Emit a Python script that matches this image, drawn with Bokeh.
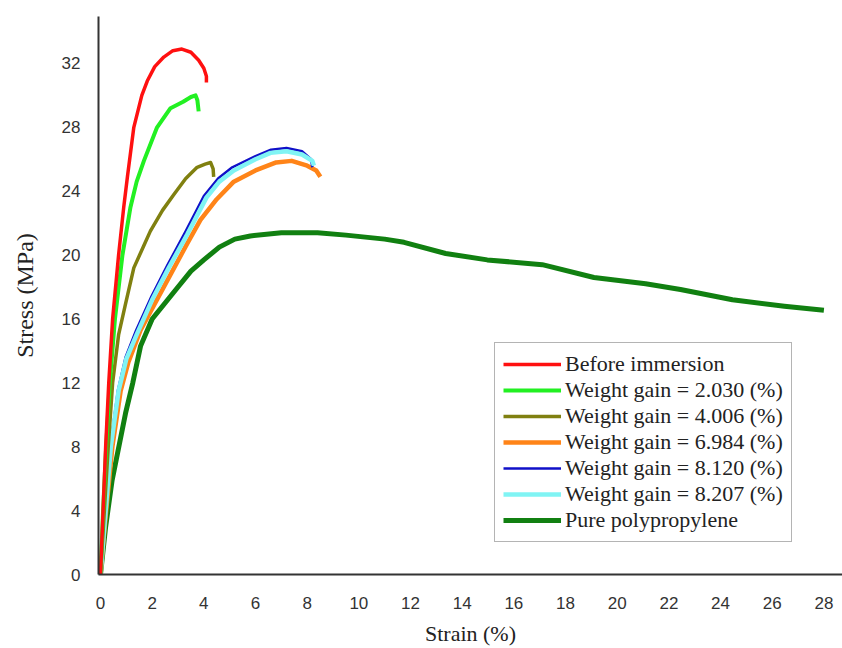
from bokeh.plotting import figure
from bokeh.models import Legend, LegendItem, Range1d, SingleIntervalTicker
from bokeh.embed import file_html
from bokeh.resources import INLINE

# Strain (%) / Stress (MPa) readings for each specimen
before_x = [0, 0.1, 0.2, 0.32, 0.47, 0.7, 0.9, 1.05, 1.29, 1.6, 1.81, 2.1, 2.45, 2.8, 3.15, 3.5, 3.8, 4.0, 4.1, 4.1]
before_y = [0, 4, 8, 12, 16, 20, 23.0, 25.0, 28.0, 30.0, 30.9, 31.8, 32.4, 32.8, 32.9, 32.7, 32.2, 31.7, 31.2, 30.8]

wg2030_x = [0, 0.1, 0.22, 0.36, 0.56, 0.85, 1.16, 1.4, 1.68, 2.19, 2.71, 3.2, 3.5, 3.68, 3.75, 3.8]
wg2030_y = [0, 4, 8, 12, 16, 20, 23.0, 24.6, 25.9, 28.0, 29.2, 29.6, 29.9, 30.0, 29.7, 29.0]

wg4006_x = [0, 0.15, 0.3, 0.47, 0.7, 0.95, 1.29, 1.68, 1.93, 2.4, 2.84, 3.3, 3.74, 4.05, 4.26, 4.36, 4.38]
wg4006_y = [0, 4, 8, 12, 15, 16.8, 19.2, 20.6, 21.5, 22.8, 23.8, 24.8, 25.5, 25.7, 25.8, 25.4, 24.9]

wg6984_x = [0, 0.22, 0.46, 0.78, 1.08, 1.55, 2.15, 2.75, 3.35, 3.87, 4.5, 5.16, 6.0, 6.8, 7.4, 8.0, 8.35, 8.51]
wg6984_y = [0, 4, 8, 11.5, 13.3, 15.3, 17.1, 18.9, 20.7, 22.2, 23.5, 24.6, 25.3, 25.8, 25.9, 25.6, 25.3, 24.9]

wg8120_x = [0, 0.19, 0.38, 0.67, 0.97, 1.38, 1.97, 2.6, 3.3, 4.0, 4.55, 5.1, 6.0, 6.6, 7.2, 7.8, 8.15, 8.2]
wg8120_y = [0, 4, 8, 11.5, 13.6, 15.3, 17.4, 19.4, 21.5, 23.7, 24.8, 25.5, 26.2, 26.6, 26.7, 26.5, 26.0, 25.5]

wg8207_x = [0, 0.2, 0.4, 0.7, 1.0, 1.42, 2.0, 2.64, 3.36, 4.1, 4.6, 5.16, 6.0, 6.58, 7.2, 7.8, 8.2, 8.26]
wg8207_y = [0, 4, 8, 11.5, 13.5, 15.1, 17.2, 19.2, 21.3, 23.6, 24.6, 25.3, 26.0, 26.4, 26.5, 26.3, 25.9, 25.6]

pp_x = [0, 0.2, 0.45, 0.71, 0.97, 1.25, 1.55, 2.0, 2.5, 3.0, 3.5, 4.0, 4.6, 5.2, 5.8, 7.0, 8.4, 9.5,
        11.0, 11.75, 13.36, 14.97, 17.1, 19.1, 21.1, 22.45, 24.46, 26.47, 28.0]
pp_y = [0, 3, 5.9, 8.0, 10.1, 12.0, 14.3, 16.0, 17.0, 18.0, 19.0, 19.7, 20.5, 21.0, 21.2, 21.4, 21.4, 21.25,
        21.0, 20.8, 20.1, 19.7, 19.4, 18.6, 18.2, 17.85, 17.2, 16.8, 16.55]

labels = ["Before immersion", "Weight gain = 2.030 (%)", "Weight gain = 4.006 (%)",
          "Weight gain = 6.984 (%)", "Weight gain = 8.120 (%)", "Weight gain = 8.207 (%)",
          "Pure polypropylene"]
colors = ["#ff1010", "#22f022", "#808010", "#ff8418", "#1010c8", "#80f4f4", "#118011"]

x_ticks_interval = 2
y_ticks_interval = 4

p = figure(width=842, height=648, output_backend="svg", toolbar_location=None,
           x_range=Range1d(-0.077, 28.72), y_range=Range1d(0, 34.94),
           min_border_left=98, min_border_right=0, min_border_top=16, min_border_bottom=73)
p.outline_line_color = None
p.background_fill_color = "white"
p.border_fill_color = "white"
p.xgrid.visible = False
p.ygrid.visible = False

r_pp = p.line(pp_x, pp_y, line_color=colors[6], line_width=5, line_join="round")
r_or = p.line(wg6984_x, wg6984_y, line_color=colors[3], line_width=4.5, line_join="round")
r_bl = p.line(wg8120_x, wg8120_y, line_color=colors[4], line_width=2.5, line_join="round")
r_cy = p.line(wg8207_x, wg8207_y, line_color=colors[5], line_width=4.5, line_join="round")
r_ol = p.line(wg4006_x, wg4006_y, line_color=colors[2], line_width=3.5, line_join="round")
r_gr = p.line(wg2030_x, wg2030_y, line_color=colors[1], line_width=4, line_join="round")
r_rd = p.line(before_x, before_y, line_color=colors[0], line_width=3.5, line_join="round")

renderers = [r_rd, r_gr, r_ol, r_or, r_bl, r_cy, r_pp]
items = [LegendItem(label=l, renderers=[r]) for l, r in zip(labels, renderers)]
legend = Legend(items=items, location=(396, 32))
legend.label_text_font = "Liberation Serif"
legend.label_text_font_size = "22px"
legend.label_text_color = "#222222"
legend.glyph_width = 58
legend.glyph_height = 24
legend.label_height = 24
legend.spacing = 0
legend.padding = 8
legend.margin = 0
legend.label_standoff = 4
legend.border_line_color = "#6a6a6a"
legend.border_line_width = 1.5
legend.background_fill_color = "white"
legend.background_fill_alpha = 1
p.add_layout(legend, "center")

for ax in (p.xaxis[0], p.yaxis[0]):
    ax.axis_line_color = "#333333"
    ax.axis_line_width = 2
    ax.major_tick_line_color = None
    ax.minor_tick_line_color = None
    ax.major_tick_out = 0
    ax.major_tick_in = 0
    ax.major_label_text_font = "Liberation Sans"
    ax.major_label_text_font_size = "17px"
    ax.major_label_text_color = "#333333"
    ax.axis_label_text_font = "Liberation Serif"
    ax.axis_label_text_font_style = "normal"
    ax.axis_label_text_color = "#222222"

p.xaxis[0].ticker = SingleIntervalTicker(interval=x_ticks_interval)
p.yaxis[0].ticker = SingleIntervalTicker(interval=y_ticks_interval)
p.xaxis[0].axis_label = "Strain (%)"
p.yaxis[0].axis_label = "Stress (MPa)"
p.xaxis[0].axis_label_text_font_size = "22px"
p.yaxis[0].axis_label_text_font_size = "24px"
p.xaxis[0].major_label_standoff = 18
p.xaxis[0].axis_label_standoff = 9
p.yaxis[0].major_label_standoff = 14
p.yaxis[0].axis_label_standoff = 21

open("out.html", "w").write(file_html(p, INLINE))
